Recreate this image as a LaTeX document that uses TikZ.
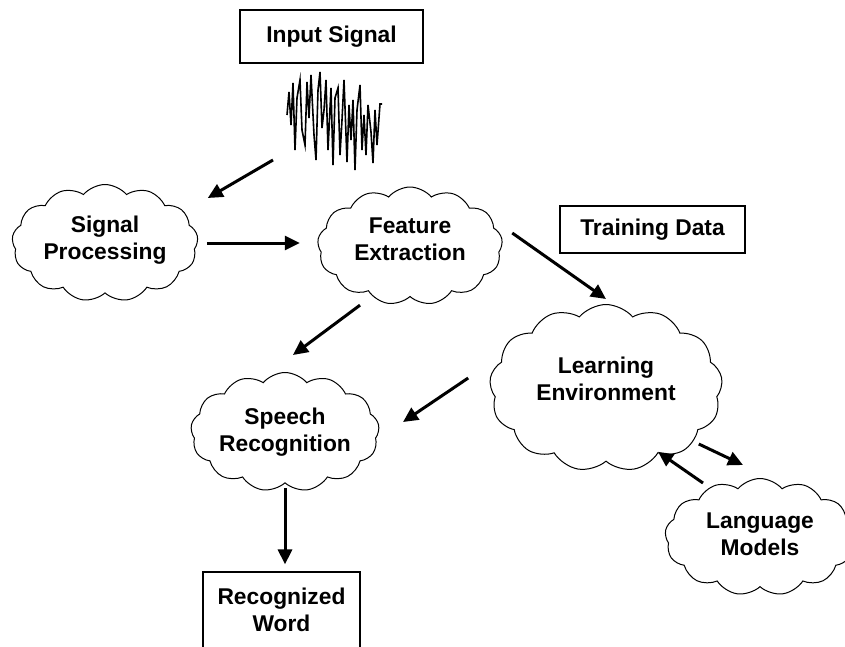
\documentclass[tikz,border=0pt]{standalone}
\usepackage{fontspec}
\setmainfont{Liberation Sans}
\usetikzlibrary{shapes.symbols,arrows.meta}

\tikzset{
  labelfont/.style={font=\bfseries\fontsize{22.8}{27}\selectfont},
  cloudbox/.style={cloud, draw, line width=1pt, cloud puffs=13, cloud puff arc=100,
    cloud ignores aspect, inner sep=0pt, align=center, labelfont},
  textbox/.style={draw, line width=1.2pt, inner sep=0pt, align=center, labelfont},
  arr/.style={-{Triangle[length=15pt,width=14pt]}, line width=3pt},
  signalline/.style={line width=1.6pt, line join=miter},
}

\begin{document}
\begin{tikzpicture}[x=1pt, y=-1pt]
    \useasboundingbox (0,0) rectangle (845,646);

    % Boxes
    \node[textbox, minimum width=183pt, minimum height=53pt] (inp) at (331.5,36.5) {Input Signal};
    \node[textbox, minimum width=185pt, minimum height=47pt] (td) at (652.5,229.5) {Training Data};
    \node[textbox, minimum width=157pt, minimum height=76pt] (rw) at (281.5,610) {Recognized\\Word};

    % Waveform under the input box
    \draw[signalline] plot coordinates {(287,115) (289,92) (291,125) (293,83) (295,150) (297,98)
      (300,80) (302,130) (305,145) (307,82) (309,118) (311,75) (314,135) (316,160) (318,90)
      (320,72) (322,128) (324,110) (326,80) (328,150) (331,88) (333,165) (335,98) (338,88)
      (340,155) (342,120) (344,80) (347,162) (349,105) (351,140) (353,100) (355,170) (357,110)
      (360,85) (362,150) (364,115) (366,155) (368,105) (371,132) (373,163) (375,110) (377,145)
      (380,104) (382,104)};
    \coordinate (wave) at (273,160);

    % Clouds
    \node[cloudbox, minimum width=186pt, minimum height=117pt, text depth=10pt] (sp) at (105,243) {Signal\\Processing};
    \node[cloudbox, minimum width=185pt, minimum height=118pt, text depth=13pt] (fe) at (410,246) {Feature\\Extraction};
    \node[cloudbox, minimum width=233pt, minimum height=167pt, text depth=18pt] (le) at (606,388) {Learning\\Environment};
    \node[cloudbox, minimum width=186pt, minimum height=119pt] (sr) at (285,432) {Speech\\Recognition};
    \node[cloudbox, minimum width=190pt, minimum height=117pt, text depth=5pt] (lm) at (760,537) {Language\\Models};

    % Arrows
    \draw[arr] (wave) -- ([xshift=10pt,yshift=45pt]sp.east);
    \draw[arr, shorten <=9pt, shorten >=18pt] (sp.east) -- (sp.east -| fe.west);
    \draw[arr] ([xshift=10pt,yshift=13pt]fe.east) -- ([yshift=5pt]le.north);
    \draw[arr] ([xshift=-50pt,yshift=-8pt]fe.south) -- ([xshift=8pt,yshift=17pt]sr.north);
    \draw[arr] ([xshift=-22pt,yshift=10pt]le.west) -- ([xshift=24pt,yshift=10pt]sr.east);
    \draw[arr, shorten <=5pt, shorten >=7pt] (sr.south) -- (sr.south |- rw.north);
    \draw[arr] ([xshift=-23pt,yshift=-56pt]le.east) -- ([xshift=-17pt,yshift=13pt]lm.north);
    \draw[arr] ([xshift=-57pt,yshift=-5pt]lm.north) -- ([xshift=52pt,yshift=10pt]le.south);
\end{tikzpicture}
\end{document}
